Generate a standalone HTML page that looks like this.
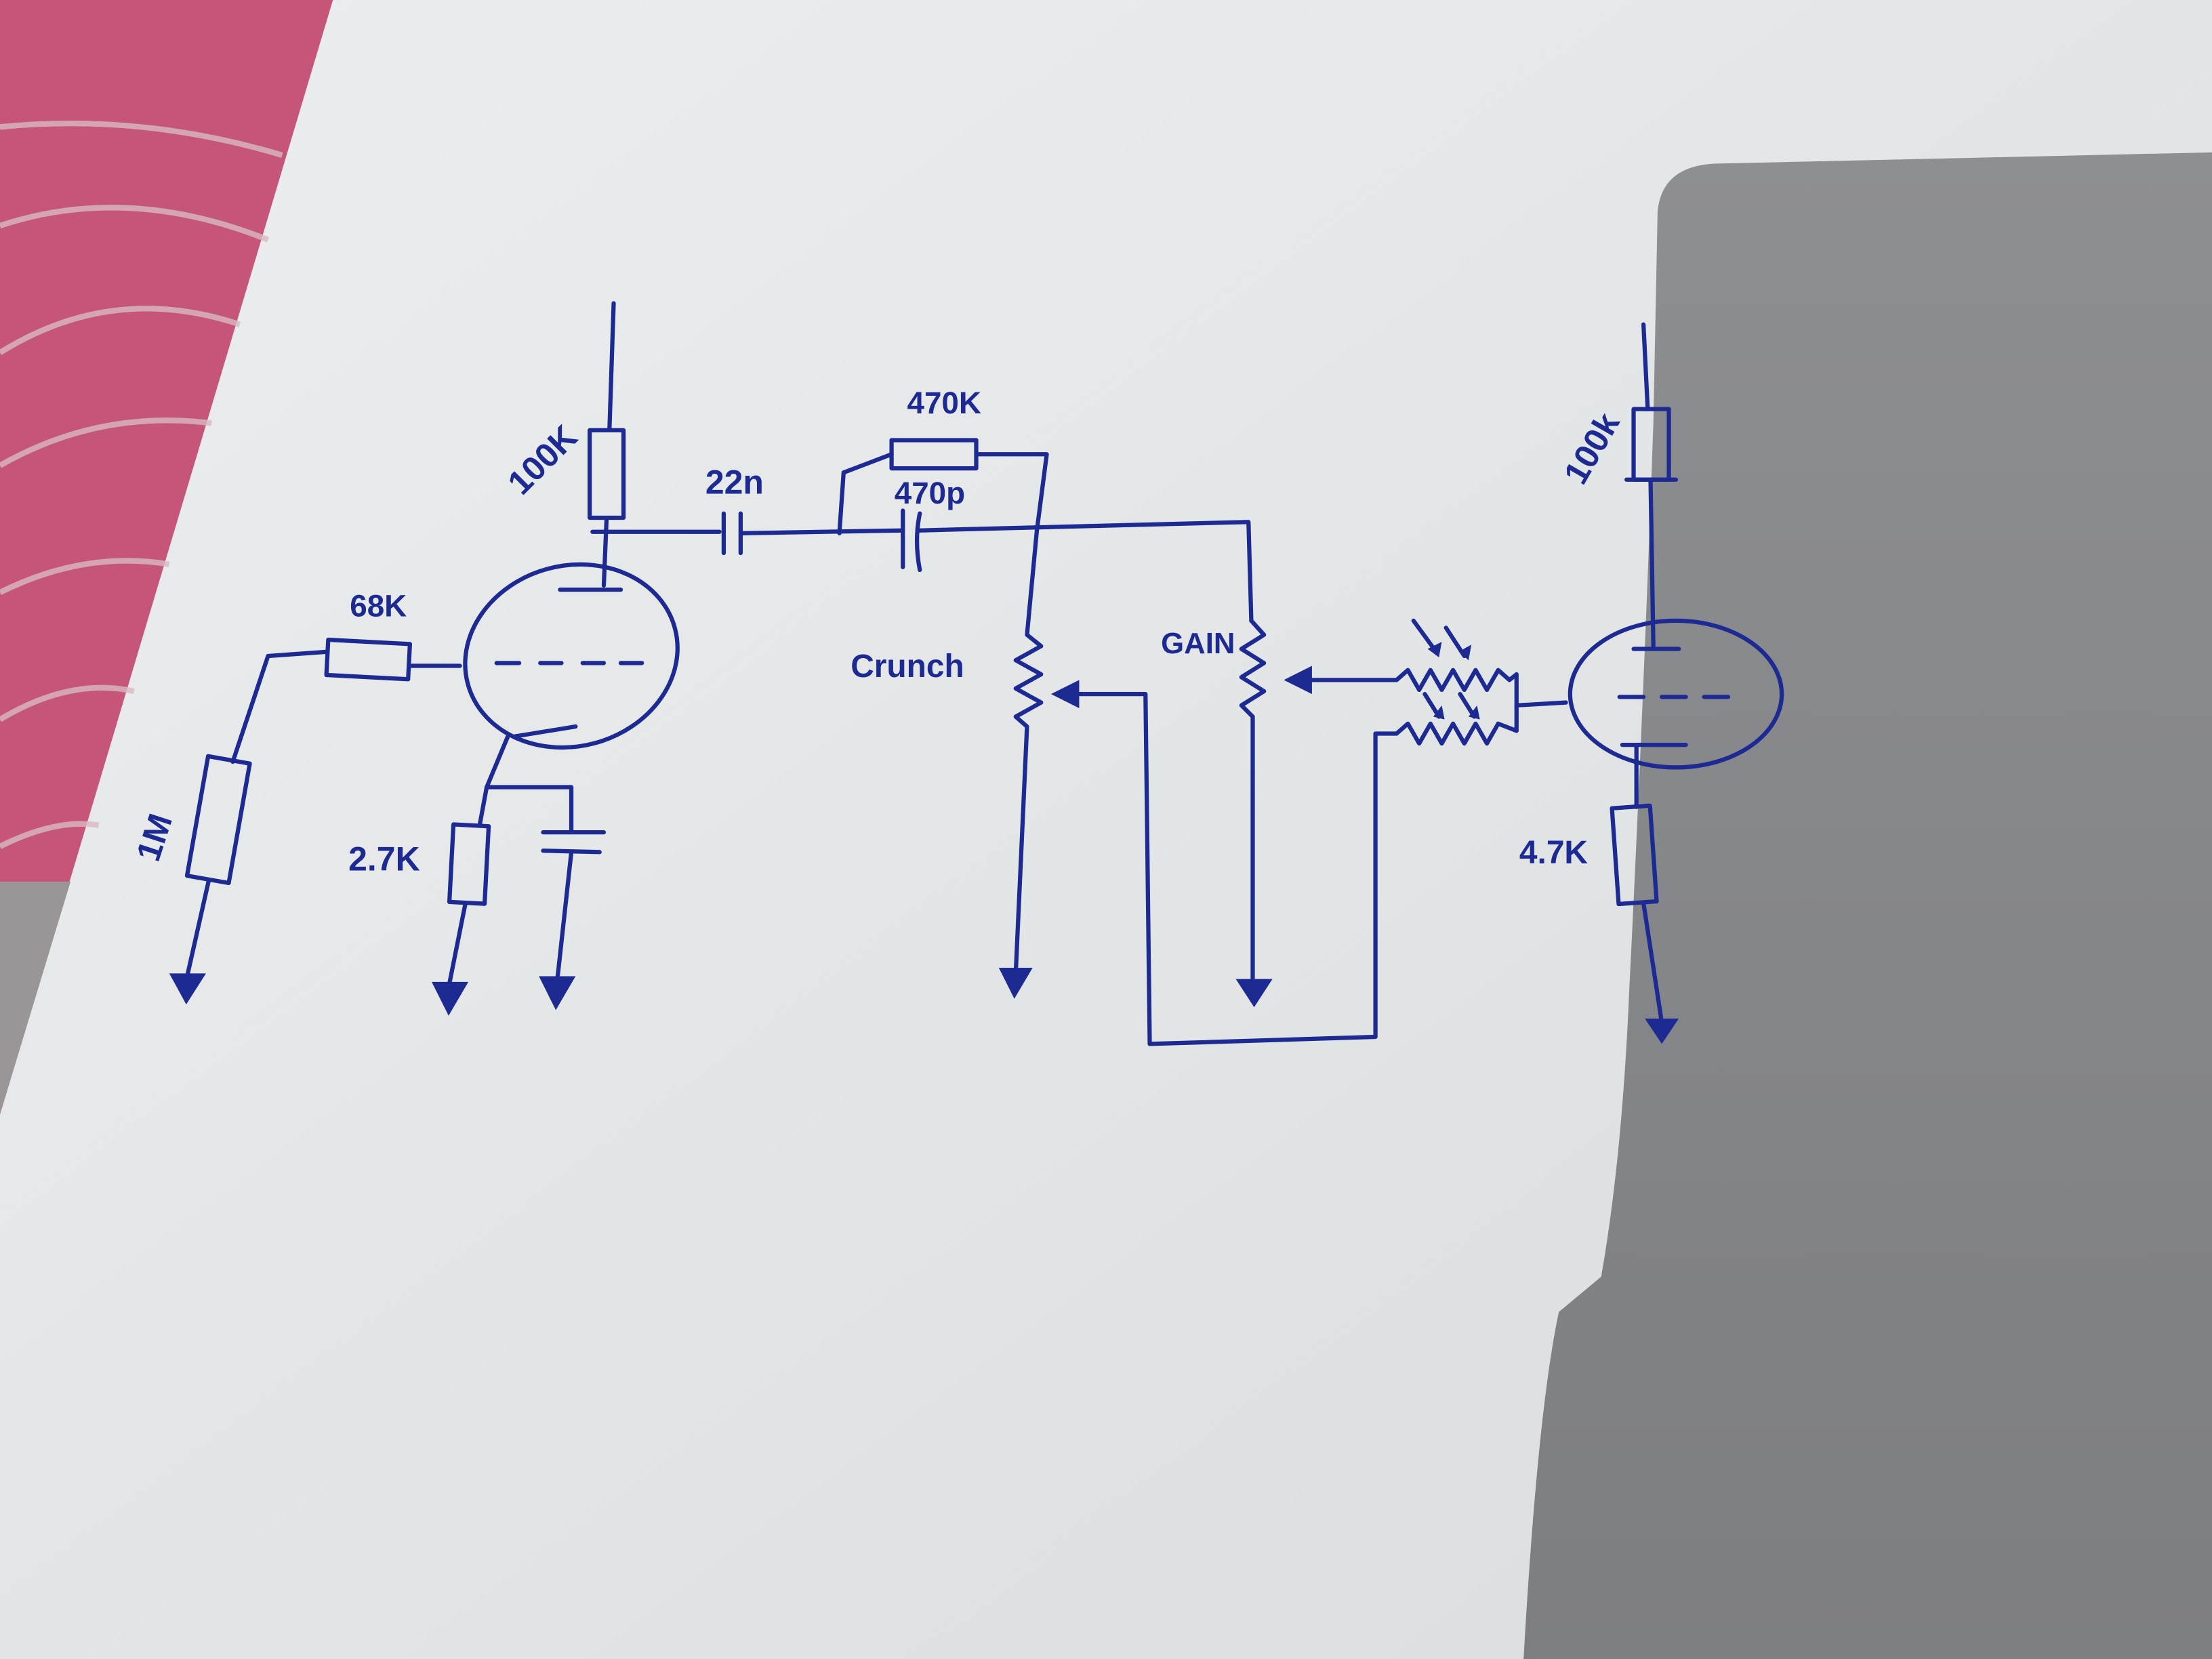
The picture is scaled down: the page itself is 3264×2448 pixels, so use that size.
<!DOCTYPE html>
<html><head><meta charset="utf-8"><style>
html,body{margin:0;padding:0;width:3264px;height:2448px;overflow:hidden;background:#e3e5e7}
svg{display:block}
text{font-family:"Liberation Sans",sans-serif;fill:#1c2a92;font-weight:bold}
</style></head><body>
<svg width="3264" height="2448" viewBox="0 0 1568 1176" xmlns="http://www.w3.org/2000/svg">
<defs>
<linearGradient id="pg" x1="0" y1="0" x2="1" y2="1">
<stop offset="0" stop-color="#eceeef"/><stop offset="1" stop-color="#dadddf"/></linearGradient>
<linearGradient id="sh" x1="0" y1="0" x2="0" y2="1">
<stop offset="0" stop-color="#8e8f92"/><stop offset="1" stop-color="#7d7e81"/></linearGradient>
</defs>
<rect width="1568" height="1176" fill="url(#pg)"/>
<polygon points="0,0 236,0 0,790" fill="#c65679"/>
<g stroke="#d9b9c3" stroke-width="4" fill="none" opacity="0.8">
<path d="M0,90 Q100,80 200,110"/><path d="M0,160 Q90,130 190,170"/><path d="M0,250 Q80,200 170,230"/>
<path d="M0,330 Q70,290 150,300"/><path d="M0,420 Q60,390 120,400"/><path d="M0,510 Q50,480 95,490"/><path d="M0,600 Q40,580 70,585"/>
</g>
<polygon points="0,625 50,625 0,790" fill="#9a9596"/>
<path d="M1175,150 Q1178,118 1215,116 L1568,108 L1568,1176 L1080,1176 Q1090,1000 1105,930 L1135,905 Q1150,820 1155,700 Q1165,500 1172,300 Z" fill="url(#sh)"/>
<g stroke="#1c2a92" stroke-width="3" fill="none" stroke-linecap="round" stroke-linejoin="round">
<path d="M435,215 L432,305"/><rect x="418" y="305" width="24" height="62"/>
<path d="M430,367 L428,415"/><path d="M420,377 L510,377"/>
<path d="M513,364 L513,392 M525,364 L525,392"/><path d="M525,378 L640,376"/>
<path d="M397,418 L440,418"/>
<ellipse cx="405" cy="465" rx="76" ry="64" transform="rotate(-15 405 465)"/>
<path d="M352,470 L368,470 M383,470 L398,470 M413,470 L428,470 M440,470 L455,470"/>
<path d="M365,522 L408,515"/>
<path d="M360,522 L345,558 L405,558 L405,588"/><path d="M385,590 L428,590 M385,603 L425,604"/>
<path d="M405,604 L395,695"/>
<path d="M345,558 L340,585"/><rect x="320" y="585" width="25" height="55" transform="rotate(3 332 612)"/>
<path d="M330,640 L318,700"/>
<path d="M326,472 L290,472"/><rect x="232" y="455" width="58" height="25" transform="rotate(3 261 467)"/>
<path d="M232,462 L190,465 L165,540"/>
<rect x="140" y="538" width="30" height="86" transform="rotate(10 155 580)"/>
<path d="M148,624 L132,695"/>
<path d="M595,378 L598,335 L632,322"/><rect x="632" y="312" width="60" height="20"/>
<path d="M692,322 L742,322 L735,376"/>
<path d="M640,362 L640,402 M652,364 Q648,383 652,404"/>
<path d="M652,376 L885,370 L887,440"/>
<path d="M735,376 L728,450 L738,458 L720,468 L738,478 L720,488 L738,498 L720,508 L728,515 L720,690"/>
<path d="M815,740 L812,492 L760,492"/>
<path d="M887,440 L896,450 L880,460 L896,470 L880,480 L896,490 L880,500 L888,508 L888,695"/>
<path d="M815,740 L975,735 L975,520 L990,520"/>
<path d="M930,482 L990,482"/>
<path d="M990,482 L998,475 L1006,489 L1014,475 L1022,489 L1030,475 L1038,489 L1046,475 L1054,489 L1062,475 L1070,482 L1075,478 L1075,518"/>
<path d="M990,520 L998,513 L1006,527 L1014,513 L1022,527 L1030,513 L1038,527 L1046,513 L1054,527 L1062,513 L1075,518"/>
<path d="M1002,440 L1018,462 M1025,445 L1038,465 M1010,492 L1020,508 M1035,492 L1045,508"/>
<path d="M1075,500 L1110,498"/>
<path d="M1165,230 L1168,290"/><rect x="1158" y="290" width="25" height="50"/>
<path d="M1153,340 L1188,340"/><path d="M1170,340 L1172,458"/><path d="M1158,460 L1190,460"/>
<ellipse cx="1188" cy="492" rx="75" ry="52"/>
<path d="M1148,494 L1165,494 M1178,494 L1195,494 M1208,494 L1225,494"/>
<path d="M1150,528 L1195,528"/><path d="M1160,528 L1160,572"/>
<rect x="1145" y="572" width="27" height="68" transform="rotate(-4 1158 606)"/>
<path d="M1165,640 L1178,725"/>
</g>
<g fill="#1c2a92">
<polygon points="120,690 146,690 132,712"/>
<polygon points="306,696 332,696 318,720"/>
<polygon points="382,692 408,692 394,716"/>
<polygon points="708,686 732,686 719,708"/>
<polygon points="876,694 902,694 889,714"/>
<polygon points="1166,722 1190,722 1178,740"/>
<polygon points="745,492 765,482 765,502"/>
<polygon points="910,482 930,472 930,492"/>
<polygon points="1012,460 1020,466 1022,455"/><polygon points="1034,462 1041,468 1043,457"/>
<polygon points="1016,508 1024,510 1022,500"/><polygon points="1041,508 1049,510 1047,500"/>
</g>
<text x="370" y="352" font-size="24" transform="rotate(-45 370 352)">100K</text>
<text x="500" y="350" font-size="24">22n</text>
<text x="643" y="293" font-size="22">470K</text>
<text x="634" y="357" font-size="22">470p</text>
<text x="248" y="437" font-size="22">68K</text>
<text x="112" y="612" font-size="24" transform="rotate(-72 112 612)">1M</text>
<text x="247" y="617" font-size="24">2.7K</text>
<text x="603" y="480" font-size="23">Crunch</text>
<text x="823" y="463" font-size="21">GAIN</text>
<text x="1122" y="345" font-size="24" transform="rotate(-60 1122 345)">100k</text>
<text x="1077" y="612" font-size="23">4.7K</text>
</svg>
</body></html>
